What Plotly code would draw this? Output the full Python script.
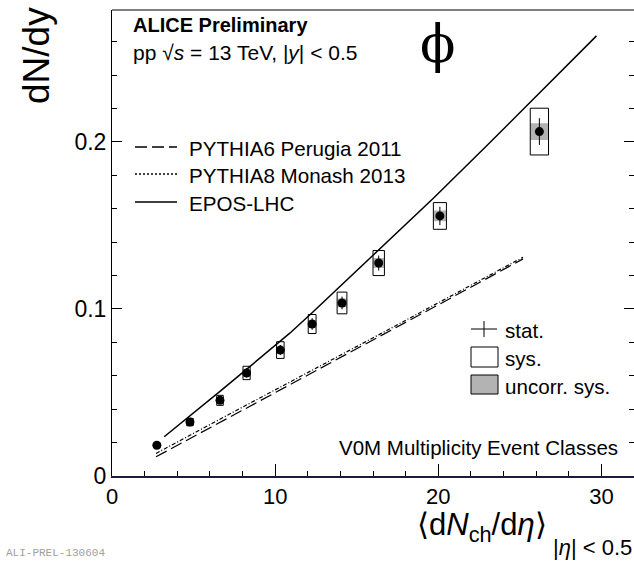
import plotly.graph_objects as go

# phi yield vs charged-particle multiplicity, pp 13 TeV, V0M classes
mult = [2.75, 4.78, 6.62, 8.25, 10.32, 12.27, 14.1, 16.35, 20.1, 26.2]
mult_box_hw = [0.2, 0.2, 0.2, 0.22, 0.23, 0.24, 0.3, 0.35, 0.4, 0.56]
phi_yield = [0.0184, 0.0323, 0.0453, 0.0617, 0.0754, 0.0910, 0.1036, 0.1275, 0.1557, 0.2062]
stat_err = [0.0012, 0.0018, 0.0022, 0.0027, 0.003, 0.0035, 0.0038, 0.0045, 0.0055, 0.008]
sys_err = [0.0014, 0.0022, 0.003, 0.004, 0.005, 0.0057, 0.0065, 0.0075, 0.008, 0.014]
uncorr_err = [0.0006, 0.0009, 0.0012, 0.0016, 0.002, 0.0023, 0.0026, 0.003, 0.0032, 0.005]

# model predictions
epos_x = [3.2, 4.8, 6.6, 8.3, 10.9, 12.3, 14.0, 16.4, 19.7, 23.0, 26.3, 29.7]
epos_y = [0.0235, 0.036, 0.0505, 0.0643, 0.0855, 0.098, 0.1136, 0.136, 0.1663, 0.198, 0.2305, 0.2635]
py6_x = [2.7, 4.8, 6.6, 8.3, 10.3, 12.3, 14.0, 16.4, 20.1, 25.2]
py6_y = [0.0115, 0.0225, 0.032, 0.041, 0.0513, 0.0617, 0.0707, 0.0835, 0.103, 0.130]
py8_x = [2.7, 4.8, 6.6, 8.3, 10.3, 12.3, 14.0, 16.4, 20.1, 25.2]
py8_y = [0.0135, 0.0243, 0.0338, 0.0428, 0.0531, 0.0634, 0.0722, 0.0848, 0.1042, 0.1310]

x_ticks = [0, 10, 20, 30]
y_ticks = [0, 0.1, 0.2]
y_tick_labels = ["0", "0.1", "0.2"]

FONT = "Liberation Sans, Arial, Helvetica, sans-serif"
GRAY = "#b3b3b3"

# plot area in pixels (used to place the hand-drawn legends and labels)
PL, PR, PT, PB = 112, 634, 10, 476


def fx(px):
    return (px - PL) / (PR - PL)


def fy(py):
    return (PB - py) / (PB - PT)


def boxes(xc, hw, yc, he):
    xs, ys = [], []
    for x, w, y, e in zip(xc, hw, yc, he):
        xs += [x - w, x + w, x + w, x - w, x - w, None]
        ys += [y - e, y - e, y + e, y + e, y - e, None]
    return xs, ys


fig = go.Figure()

fig.add_trace(go.Scatter(x=py6_x, y=py6_y, mode="lines",
                         line=dict(color="black", width=1.2, dash="12px,5px"),
                         showlegend=False, hoverinfo="skip"))
fig.add_trace(go.Scatter(x=py8_x, y=py8_y, mode="lines",
                         line=dict(color="black", width=1.2, dash="4px,2px,1px,2px"),
                         showlegend=False, hoverinfo="skip"))
fig.add_trace(go.Scatter(x=epos_x, y=epos_y, mode="lines",
                         line=dict(color="black", width=1.5),
                         showlegend=False, hoverinfo="skip"))

ux, uy = boxes(mult, mult_box_hw, phi_yield, uncorr_err)
fig.add_trace(go.Scatter(x=ux, y=uy, mode="lines", fill="toself", fillcolor=GRAY,
                         line=dict(width=0, color=GRAY), showlegend=False, hoverinfo="skip"))
sx, sy = boxes(mult, mult_box_hw, phi_yield, sys_err)
fig.add_trace(go.Scatter(x=sx, y=sy, mode="lines",
                         line=dict(color="black", width=1), showlegend=False, hoverinfo="skip"))

fig.add_trace(go.Scatter(x=mult, y=phi_yield, mode="markers",
                         marker=dict(color="black", size=9, symbol="circle"),
                         error_y=dict(type="data", array=stat_err, visible=True,
                                      color="black", thickness=1, width=0),
                         showlegend=False))

shapes = []
# top frame line
shapes.append(dict(type="line", xref="paper", yref="paper", x0=0, x1=1, y0=1, y1=1,
                   line=dict(color="black", width=1)))

# model legend (upper left)
model_leg = [("PYTHIA6 Perugia 2011", "12px,5px", 147),
             ("PYTHIA8 Monash 2013", "2px,2px", 174),
             ("EPOS-LHC", "solid", 202)]
annotations = []
for label, dash, yy in model_leg:
    shapes.append(dict(type="line", xref="paper", yref="paper",
                       x0=fx(135), x1=fx(177), y0=fy(yy), y1=fy(yy),
                       line=dict(color="black", width=1.3, dash=dash)))
    annotations.append(dict(text=label, xref="paper", yref="paper", x=fx(187), y=fy(yy + 1),
                            xanchor="left", yanchor="middle", showarrow=False,
                            font=dict(family=FONT, size=20.6, color="black")))

# uncertainty legend (lower right)
shapes.append(dict(type="line", xref="paper", yref="paper", x0=fx(471), x1=fx(497),
                   y0=fy(329), y1=fy(329), line=dict(color="black", width=1)))
shapes.append(dict(type="line", xref="paper", yref="paper", x0=fx(484), x1=fx(484),
                   y0=fy(321), y1=fy(337), line=dict(color="black", width=1)))
shapes.append(dict(type="rect", xref="paper", yref="paper", x0=fx(471), x1=fx(498),
                   y0=fy(367), y1=fy(347), line=dict(color="black", width=1), fillcolor="white"))
shapes.append(dict(type="rect", xref="paper", yref="paper", x0=fx(471), x1=fx(498),
                   y0=fy(394), y1=fy(375), line=dict(color="black", width=1), fillcolor=GRAY))
for label, yy in [("stat.", 330), ("sys.", 358), ("uncorr. sys.", 386)]:
    annotations.append(dict(text=label, xref="paper", yref="paper", x=fx(503), y=fy(yy),
                            xanchor="left", yanchor="middle", showarrow=False,
                            font=dict(family=FONT, size=20.6, color="black")))

annotations += [
    dict(text="<b>ALICE Preliminary</b>", xref="paper", yref="paper", x=fx(131), y=fy(25),
         xanchor="left", yanchor="middle", showarrow=False,
         font=dict(family=FONT, size=20, color="black")),
    dict(text="pp √<i>s</i> = 13 TeV, |<i>y</i>| < 0.5", xref="paper", yref="paper",
         x=fx(131), y=fy(52), xanchor="left", yanchor="middle", showarrow=False,
         font=dict(family=FONT, size=21, color="black")),
    dict(text="ϕ", xref="paper", yref="paper", x=fx(437), y=fy(44),
         xanchor="center", yanchor="middle", showarrow=False,
         font=dict(family="DejaVu Serif, Liberation Serif, serif", size=52, color="black")),
    dict(text="V0M Multiplicity Event Classes", xref="paper", yref="paper",
         x=fx(620), y=fy(447), xanchor="right", yanchor="middle", showarrow=False,
         font=dict(family=FONT, size=20.5, color="black")),
    dict(text="dN/dy", xref="paper", yref="paper", x=fx(36), y=fy(56),
         xanchor="center", yanchor="middle", textangle=-90, showarrow=False,
         font=dict(family=FONT, size=37, color="black")),
    dict(text="⟨d<i>N</i><sub>ch</sub>/d<i>η</i>⟩",
         xref="paper", yref="paper", x=fx(549), y=fy(527),
         xanchor="right", yanchor="middle", showarrow=False,
         font=dict(family=FONT, size=31, color="black")),
    dict(text="|<i>η</i>| < 0.5",
         xref="paper", yref="paper", x=fx(551), y=fy(547),
         xanchor="left", yanchor="middle", showarrow=False,
         font=dict(family=FONT, size=22, color="black")),
    dict(text="ALI-PREL-130604", xref="paper", yref="paper", x=fx(4), y=fy(553),
         xanchor="left", yanchor="middle", showarrow=False,
         font=dict(family="Liberation Mono, DejaVu Sans Mono, monospace", size=11, color="#a0a0a0")),
]

fig.update_layout(
    width=634, height=564,
    margin=dict(l=PL, r=634 - PR, t=PT, b=564 - PB),
    paper_bgcolor="white", plot_bgcolor="white",
    showlegend=False,
    shapes=shapes,
    annotations=annotations,
    xaxis=dict(range=[0, 32], showgrid=False, zeroline=False,
               showline=True, linecolor="#1b1b3a", linewidth=2, mirror=False,
               ticks="inside", ticklen=12, tickcolor="black", tickwidth=1,
               tickvals=x_ticks, ticktext=[str(v) for v in x_ticks],
               minor=dict(ticks="inside", ticklen=5, dtick=2, tickcolor="black", showgrid=False),
               tickfont=dict(family=FONT, size=22, color="black")),
    yaxis=dict(range=[0, 0.279], showgrid=False, zeroline=False,
               showline=True, linecolor="black", linewidth=1, mirror="ticks",
               ticks="inside", ticklen=10, tickcolor="black", tickwidth=1,
               tickvals=y_ticks, ticktext=y_tick_labels,
               minor=dict(ticks="inside", ticklen=5, dtick=0.02, tickcolor="black", showgrid=False),
               tickfont=dict(family=FONT, size=23, color="black")),
)

fig.write_html("out.html")
